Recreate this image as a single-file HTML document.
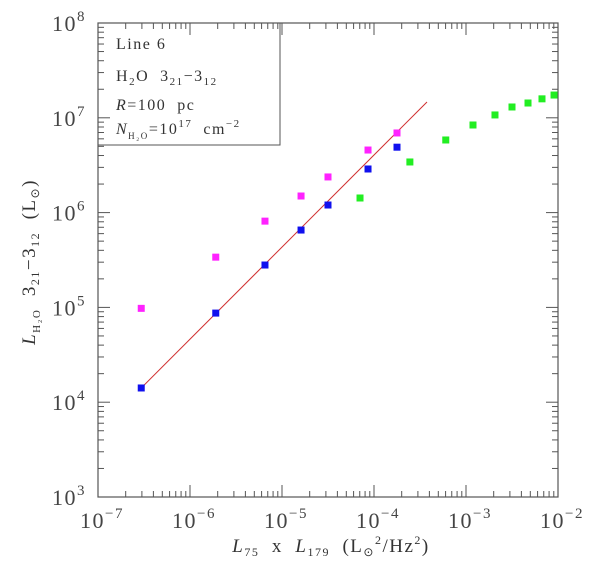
<!DOCTYPE html>
<html><head><meta charset="utf-8"><style>
body{margin:0;background:#fff}
svg{display:block;font-family:"Liberation Serif",serif}
</style></head><body>
<svg id="chart" width="600" height="561" viewBox="0 0 600 561" xmlns="http://www.w3.org/2000/svg">
<g id="axes"></g>
<g id="marks"></g>
<g fill="#333" font-size="16" letter-spacing="1.5">
<rect x="98" y="23" width="182" height="122" fill="none" stroke="#555" stroke-width="1"/>
<text x="116" y="49">Line  6</text>
<text x="116" y="81" xml:space="preserve">H<tspan font-size="11" dy="4">2</tspan><tspan dy="-4">O  3</tspan><tspan font-size="11" dy="4">21</tspan><tspan dy="-4">−3</tspan><tspan font-size="11" dy="4">12</tspan></text>
<text x="116" y="110" xml:space="preserve"><tspan font-style="italic">R</tspan>=100  pc</text>
<text x="116" y="134" xml:space="preserve"><tspan font-style="italic">N</tspan><tspan font-size="9" dy="5">H₂O</tspan><tspan dy="-5">=10</tspan><tspan font-size="11" dy="-7">17</tspan><tspan dy="7">  cm</tspan><tspan font-size="11" dy="-7">−2</tspan></text>
</g>
<text x="331" y="552" text-anchor="middle" font-size="19" letter-spacing="1.5" fill="#333" xml:space="preserve"><tspan font-style="italic">L</tspan><tspan font-size="12" dy="4">75</tspan><tspan dy="-4">  x  </tspan><tspan font-style="italic">L</tspan><tspan font-size="12" dy="4">179</tspan><tspan dy="-4">  (L</tspan><tspan font-size="12" dy="4">⊙</tspan><tspan font-size="12" dy="-12">2</tspan><tspan dy="8">/Hz</tspan><tspan font-size="12" dy="-8">2</tspan><tspan dy="8">)</tspan></text>
<text transform="translate(35,262) rotate(-90)" text-anchor="middle" font-size="19" letter-spacing="1.5" fill="#333" xml:space="preserve"><tspan font-style="italic">L</tspan><tspan font-size="11" dy="5">H₂O</tspan><tspan dy="-5">  3</tspan><tspan font-size="12" dy="4">21</tspan><tspan dy="-4">−3</tspan><tspan font-size="12" dy="4">12</tspan><tspan dy="-4">  (L</tspan><tspan font-size="12" dy="4">⊙</tspan><tspan dy="-4">)</tspan></text>
</svg>
<script>
const xLog = {min:-7, max:-2};
const yLog = {min:3, max:8};
const xTickExps = [-7,-6,-5,-4,-3,-2];
const yTickExps = [3,4,5,6,7,8];
const blueX = [-6.53,-5.72,-5.185,-4.793,-4.5,-4.065,-3.75];
const blueY = [4.15,4.94,5.447,5.816,6.08,6.46,6.69];
const magentaX = [-6.53,-5.72,-5.185,-4.793,-4.5,-4.065,-3.75];
const magentaY = [4.99,5.53,5.91,6.175,6.376,6.66,6.84];
const greenX = [-4.152,-3.61,-3.22,-2.924,-2.685,-2.5,-2.326,-2.174,-2.043];
const greenY = [6.154,6.534,6.766,6.924,7.03,7.114,7.156,7.2,7.24];
const fitX = [-6.53,-3.424];
const fitY = [4.15,7.167];

const L=98,R=558,T=23,B=497;
const NS="http://www.w3.org/2000/svg";
function sx(v){return L+(v-xLog.min)/(xLog.max-xLog.min)*(R-L);}
function sy(v){return B-(v-yLog.min)/(yLog.max-yLog.min)*(B-T);}
function mk(tag,attrs,parent){const e=document.createElementNS(NS,tag);for(const k in attrs)e.setAttribute(k,attrs[k]);parent.appendChild(e);return e;}
const axes=document.getElementById('axes'), marks=document.getElementById('marks');
const frame=mk('rect',{x:L,y:T,width:R-L,height:B-T,fill:'none',stroke:'#555','stroke-width':1.2},axes);


for(let i=0;i<xTickExps.length;i++){
  const e=xTickExps[i], x=sx(e);
  const t=mk('text',{x:x+4,y:528,'text-anchor':'middle','font-size':22,'letter-spacing':1.5,fill:'#444'},axes);
  
  
  t.innerHTML='10<tspan font-size="15" dy="-10">'+(e<0?'−':'')+Math.abs(e)+'</tspan>';
  if(i<xTickExps.length-1){
    for(let m=1;m<=9;m++){const xx=sx(e+Math.log10(m)); const len=m===1?12:6;
      mk('line',{x1:xx,x2:xx,y1:B,y2:B-len,stroke:'#555'},axes);
      mk('line',{x1:xx,x2:xx,y1:T,y2:T+len,stroke:'#555'},axes);}
  }
}
for(let i=0;i<yTickExps.length;i++){
  const e=yTickExps[i], y=sy(e);
  const t=mk('text',{x:52,y:y+8,'font-size':22,'letter-spacing':1.5,fill:'#444'},axes);
  
  
  t.innerHTML='10<tspan font-size="15" dy="-10">'+e+'</tspan>';
  if(i<yTickExps.length-1){
    for(let m=1;m<=9;m++){const yy=sy(e+Math.log10(m)); const len=m===1?12:6;
      mk('line',{x1:L,x2:L+len,y1:yy,y2:yy,stroke:'#555'},axes);
      mk('line',{x1:R,x2:R-len,y1:yy,y2:yy,stroke:'#555'},axes);}
  }
}
const fit=mk('line',{x1:sx(fitX[0]),y1:sy(fitY[0]),x2:sx(fitX[1]),y2:sy(fitY[1]),stroke:'#d03030','stroke-width':1},marks);


function pts(xs,ys,color,name){for(let i=0;i<xs.length;i++){
  const r=mk('rect',{x:sx(xs[i])-3.5,y:sy(ys[i])-3.5,width:7,height:7,fill:color},marks);
  
  }}
pts(magentaX,magentaY,'#ff22ff','magenta-point');
pts(greenX,greenY,'#22ee22','green-point');
pts(blueX,blueY,'#1010ee','blue-point');
</script>
</body></html>
